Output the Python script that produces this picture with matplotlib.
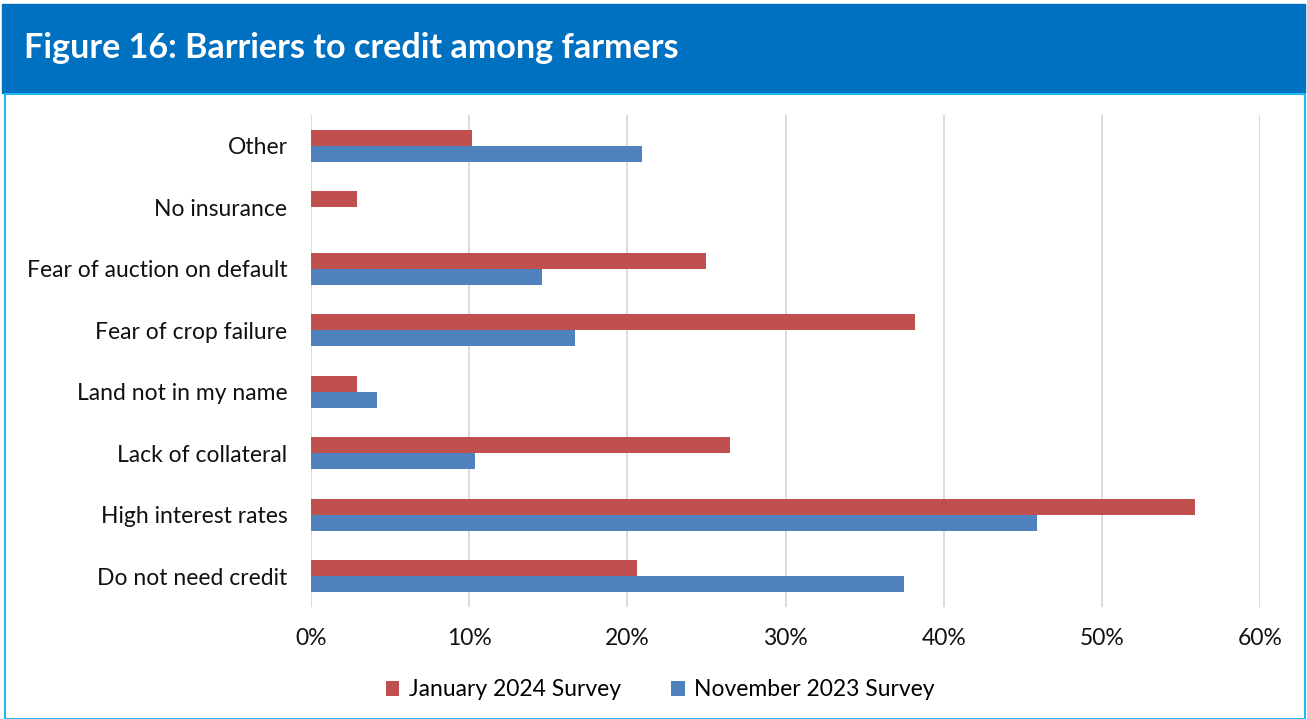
import numpy as np
import matplotlib
matplotlib.use('Agg')
import matplotlib.pyplot as plt
from matplotlib.patches import Rectangle
from matplotlib.ticker import PercentFormatter

# Survey responses (share of farmers), bottom to top
categories = ["Do not need credit", "High interest rates", "Lack of collateral",
              "Land not in my name", "Fear of crop failure",
              "Fear of auction on default", "No insurance", "Other"]
jan_2024 = [20.6, 55.9, 26.5, 2.9, 38.2, 25.0, 2.9, 10.2]
nov_2023 = [37.5, 45.9, 10.4, 4.2, 16.7, 14.6, 0.0, 20.9]
series_names = ["January 2024 Survey", "November 2023 Survey"]
x_ticks = [0, 10, 20, 30, 40, 50, 60]

RED = '#C0504D'
BLUE = '#4F81BD'

plt.rcParams['font.family'] = ['Lato', 'DejaVu Sans']

fig = plt.figure(figsize=(13.07, 7.19), dpi=100)
W, H = 1307, 719

# Header band and framed panel
fig.patches.append(Rectangle((2 / W, 1 - 93 / H), 1303 / W, 89 / H,
                             transform=fig.transFigure, color='#0070C0', zorder=-2))
fig.patches.append(Rectangle((5 / W, 0), 1300 / W, 1 - 94 / H,
                             transform=fig.transFigure, facecolor='white',
                             edgecolor='#1FB8F0', linewidth=1.5, zorder=-2))
fig.text(24 / W, 1 - 48 / H, "Figure 16: Barriers to credit among farmers",
         color='white', fontsize=24.6, fontweight='bold', va='center', ha='left')

ax = fig.add_axes([311 / W, 1 - 607 / H, 949 / W, 492 / H])
ax.set_zorder(5)
ax.patch.set_alpha(0)

y = np.arange(len(categories))
h = 0.26
ax.barh(y + h / 2, jan_2024, height=h, color=RED, label=series_names[0], zorder=3)
ax.barh(y - h / 2, nov_2023, height=h, color=BLUE, label=series_names[1], zorder=3)

ax.set_xlim(0, 60)
ax.set_ylim(-0.5, len(categories) - 0.5)
ax.set_xticks(x_ticks)
ax.xaxis.set_major_formatter(PercentFormatter(decimals=0))
ax.set_yticks(y)
ax.set_yticklabels(categories)
ax.tick_params(axis='both', length=0, labelsize=16.5, colors='#111111')
ax.tick_params(axis='x', pad=15)
ax.tick_params(axis='y', pad=17)
ax.grid(axis='x', color='#D9D9D9', linewidth=1.3, zorder=0)
for s in ax.spines.values():
    s.set_visible(False)

ax.legend(loc='center', bbox_to_anchor=(660 / W, 1 - 690 / H),
          bbox_transform=fig.transFigure, ncol=2, frameon=False, fontsize=16.5,
          handlelength=0.6, handleheight=0.6, handletextpad=0.4,
          columnspacing=2.2)

fig.savefig('out.png', dpi=100)
